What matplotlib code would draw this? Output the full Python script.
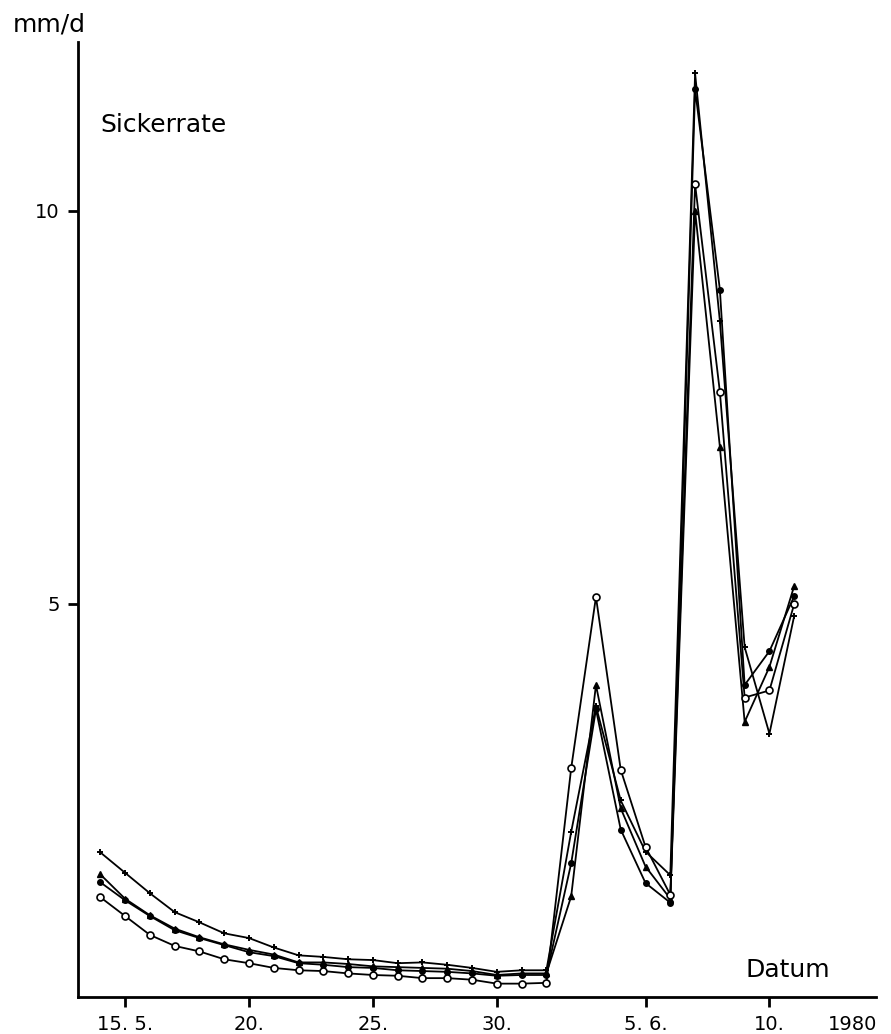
import matplotlib.pyplot as plt

# day number counted from 1 May 1980 (1 June = 32)
days = list(range(14, 43))

tick_days = [15, 20, 25, 30, 36, 41]
tick_labels = ['15. 5.', '20.', '25.', '30.', '5. 6.', '10.']
year_label = '1980'
year_pos = 44.35

series_plus = [1.84, 1.58, 1.32, 1.08, 0.95, 0.81, 0.75, 0.63, 0.53, 0.51, 0.48, 0.47, 0.43, 0.44, 0.41,
               0.37, 0.32, 0.34, 0.34, 2.10, 3.70, 2.50, 1.85, 1.55, 11.75, 8.60, 4.45, 3.35, 4.85]
series_tri = [1.56, 1.25, 1.04, 0.87, 0.76, 0.67, 0.60, 0.54, 0.44, 0.44, 0.42, 0.39, 0.38, 0.37, 0.36,
              0.33, 0.28, 0.30, 0.30, 1.28, 3.97, 2.40, 1.66, 1.25, 10.00, 7.00, 3.50, 4.20, 5.23]
series_dot = [1.46, 1.23, 1.03, 0.85, 0.75, 0.66, 0.57, 0.52, 0.43, 0.41, 0.38, 0.37, 0.34, 0.33, 0.32,
              0.30, 0.27, 0.28, 0.28, 1.70, 3.66, 2.13, 1.45, 1.20, 11.55, 9.00, 3.97, 4.40, 5.10]
series_circ = [1.27, 1.03, 0.79, 0.65, 0.58, 0.48, 0.43, 0.37, 0.34, 0.33, 0.30, 0.28, 0.27, 0.24, 0.24,
               0.22, 0.17, 0.17, 0.18, 2.91, 5.09, 2.89, 1.91, 1.30, 10.34, 7.70, 3.81, 3.90, 5.00]

fig = plt.figure(figsize=(8.91, 10.34), dpi=100)
ax = fig.add_axes([78 / 891, 1 - 997 / 1034, (876 - 78) / 891, (997 - 42) / 1034])

lw = 1.3
ax.plot(days, series_plus, color='black', lw=lw, marker='+', ms=5, mew=1.4)
ax.plot(days, series_tri, color='black', lw=lw, marker='^', ms=4.5)
ax.plot(days, series_dot, color='black', lw=lw, marker='o', ms=4)
ax.plot(days, series_circ, color='black', lw=lw, marker='o', ms=5, mfc='white', mew=1.2)

ax.set_xlim(13.1, 45.3)
ax.set_ylim(0, 12.15)

for side in ['top', 'right']:
    ax.spines[side].set_visible(False)
for side in ['left', 'bottom']:
    ax.spines[side].set_linewidth(2.0)

ax.set_xticks(tick_days)
ax.set_xticklabels(tick_labels)
ax.set_xticks([year_pos], minor=True)
ax.set_xticklabels([year_label], minor=True)
ax.set_yticks([5, 10])
ax.set_yticklabels(['5', '10'])
ax.tick_params(axis='both', direction='out', length=7, width=2, labelsize=14, pad=6)
ax.tick_params(axis='x', which='minor', length=0, labelsize=14, pad=13)

fig.text(13 / 891, 1 - 24 / 1034, 'mm/d', ha='left', va='center', fontsize=18)
fig.text(100 / 891, 1 - 125 / 1034, 'Sickerrate', ha='left', va='center', fontsize=18)
fig.text(745 / 891, 1 - 970 / 1034, 'Datum', ha='left', va='center', fontsize=18)

fig.savefig('out.png', dpi=100)
